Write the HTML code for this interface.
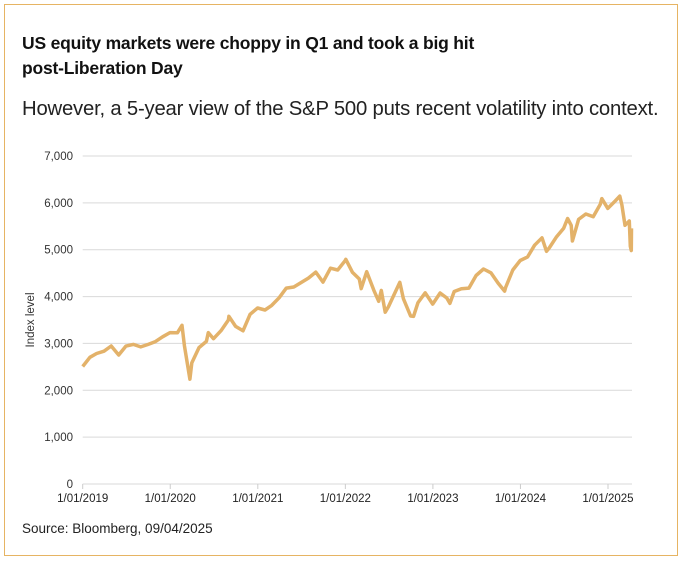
<!DOCTYPE html>
<html><head><meta charset="utf-8"><style>
body{margin:0;background:#fff;font-family:"Liberation Sans",sans-serif;}
#frame{position:absolute;left:4px;top:4px;width:674px;height:552px;border:1.5px solid #e6b463;box-sizing:border-box;}
.t{position:absolute;color:#111;}
</style></head><body>
<div id="frame"></div>
<div class="t" style="left:22px;top:31px;font-size:17.5px;font-weight:bold;line-height:25px;letter-spacing:-0.2px">US equity markets were choppy in Q1 and took a big hit<br>post-Liberation Day</div>
<div class="t" style="left:22px;top:98px;font-size:20.3px;color:#222;letter-spacing:-0.2px">However, a 5-year view of the S&amp;P 500 puts recent volatility into context.</div>
<div class="t" style="left:22px;top:521px;font-size:13.5px;color:#222">Source: Bloomberg, 09/04/2025</div>
<svg id="chart" width="683" height="561" style="position:absolute;left:0;top:0"></svg>
<script>
const yTicks=[0,1000,2000,3000,4000,5000,6000,7000];
const xTickYears=[2019,2020,2021,2022,2023,2024,2025];
const xTickLabels=["1/01/2019","1/01/2020","1/01/2021","1/01/2022","1/01/2023","1/01/2024","1/01/2025"];
const dates=["2019-01-01","2019-01-31","2019-02-28","2019-03-31","2019-04-30","2019-05-31","2019-06-30","2019-07-31","2019-08-31","2019-09-30","2019-10-31","2019-11-30","2019-12-31",
"2020-01-31","2020-02-19","2020-02-29","2020-03-23","2020-03-31","2020-04-30","2020-05-31","2020-06-08","2020-06-30","2020-07-31","2020-08-31","2020-09-02","2020-09-30","2020-10-31","2020-11-30","2020-12-31",
"2021-01-31","2021-02-28","2021-03-31","2021-04-30","2021-05-31","2021-06-30","2021-07-31","2021-08-31","2021-09-30","2021-10-31","2021-11-30","2021-12-31",
"2022-01-03","2022-01-31","2022-02-28","2022-03-08","2022-03-31","2022-04-30","2022-05-20","2022-05-31","2022-06-16","2022-06-30","2022-07-31","2022-08-16","2022-08-31","2022-09-30","2022-10-12","2022-10-31","2022-11-30","2022-12-31",
"2023-01-31","2023-02-28","2023-03-13","2023-03-31","2023-04-30","2023-05-31","2023-06-30","2023-07-31","2023-08-31","2023-09-30","2023-10-27","2023-10-31","2023-11-30","2023-12-31",
"2024-01-31","2024-02-29","2024-03-31","2024-04-19","2024-04-30","2024-05-31","2024-06-30","2024-07-16","2024-07-31","2024-08-05","2024-08-31","2024-09-30","2024-10-31","2024-11-30","2024-12-06","2024-12-31",
"2025-01-31","2025-02-19","2025-02-28","2025-03-13","2025-03-31","2025-04-04","2025-04-08","2025-04-09"];
const values=[2507,2704,2784,2834,2946,2752,2942,2980,2926,2977,3038,3141,3231,
3226,3386,2954,2237,2585,2912,3044,3232,3100,3271,3500,3580,3363,3270,3622,3756,
3714,3811,3973,4181,4204,4298,4395,4523,4308,4605,4567,4766,
4796,4516,4374,4170,4530,4132,3900,4132,3667,3785,4130,4305,3955,3586,3577,3872,4080,3840,
4077,3970,3855,4109,4169,4180,4450,4589,4508,4288,4117,4194,4568,4770,
4846,5096,5254,4967,5036,5278,5460,5667,5522,5186,5648,5762,5705,5970,6090,5882,
6040,6144,5955,5521,5612,5074,4982,5457];
const NS="http://www.w3.org/2000/svg",svg=document.getElementById('chart');
const X0=82.7,PX=87.55,XR=632,Y0=484,Y7=156;
function yr(s){const d=new Date(s+"T00:00:00Z");const y=d.getUTCFullYear();return y+(d-Date.UTC(y,0,1))/(Date.UTC(y+1,0,1)-Date.UTC(y,0,1));}
function xs(t){return X0+(t-2019)*PX;}
function ys(v){return Y0-(v/7000)*(Y0-Y7);}
function el(t,a){const e=document.createElementNS(NS,t);for(const k in a)e.setAttribute(k,a[k]);svg.appendChild(e);return e;}
yTicks.forEach(v=>{
 const g=el('line',{x1:X0,x2:XR,y1:ys(v),y2:ys(v),stroke:'#d9d9d9','stroke-width':1});
 
 
 const t=el('text',{x:73,y:ys(v)+4,'text-anchor':'end','font-size':11.5,fill:'#333','font-family':'Liberation Sans'});
 t.textContent=v.toLocaleString('en-US');
 
 
});
xTickYears.forEach((y,i)=>{
 const tk=el('line',{x1:xs(y),x2:xs(y),y1:Y0,y2:Y0+5,stroke:'#ccc'});
 
 
 const t=el('text',{x:xs(y),y:Y0+18,'text-anchor':'middle','font-size':11.5,fill:'#222','font-family':'Liberation Sans'});
 t.textContent=xTickLabels[i];
 
 
});
const yl=el('text',{x:0,y:0,transform:'translate(34,320) rotate(-90)','text-anchor':'middle','font-size':11.5,fill:'#333','font-family':'Liberation Sans'});
yl.textContent='Index level';


const pts=dates.map((d,i)=>xs(yr(d)).toFixed(1)+','+ys(values[i]).toFixed(1)).join(' ');
const pl=el('polyline',{points:pts,fill:'none',stroke:'#e3b26a','stroke-width':3.5,'stroke-linejoin':'round'});


</script>
</body></html>
